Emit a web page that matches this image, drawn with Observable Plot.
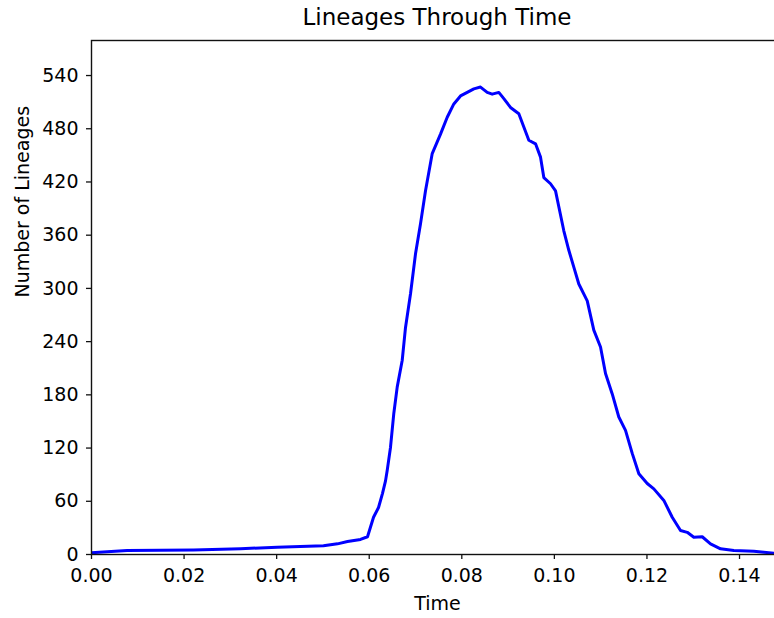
<!DOCTYPE html>
<html>
<head>
<meta charset="utf-8">
<script src="https://cdn.jsdelivr.net/npm/d3@7"></script>
<script src="https://cdn.jsdelivr.net/npm/@observablehq/plot@0.6"></script>
<style>
  html, body { margin: 0; padding: 0; background: #fff; }
  #title { box-sizing: border-box; width: 774px; height: 34px; line-height: 34px; padding-left: 100px;
           text-align: center; font-family: "DejaVu Sans", sans-serif; font-size: 23px; color: #000; }
  #chart svg { display: block; }
</style>
</head>
<body>
<div id="title">Lineages Through Time</div>
<div id="chart"></div>
<script>
const times = [0, 0.00339, 0.00771, 0.02204, 0.03219, 0.04012, 0.05012, 0.05315, 0.05531, 0.05812,
  0.05963, 0.06028, 0.06093, 0.06201, 0.06287, 0.06352, 0.06389, 0.06460, 0.06531, 0.06605,
  0.06713, 0.06784, 0.06892, 0.07000, 0.07108, 0.07216, 0.07361, 0.07540, 0.07685, 0.07828,
  0.07972, 0.08117, 0.08260, 0.08404, 0.08549, 0.08657, 0.08800, 0.08908, 0.09052, 0.09232,
  0.09340, 0.09448, 0.09593, 0.09701, 0.09772, 0.09917, 0.10025, 0.10096, 0.10204, 0.10312,
  0.10420, 0.10528, 0.10710, 0.10852, 0.10997, 0.11105, 0.11250, 0.11392, 0.11537, 0.11682,
  0.11825, 0.12006, 0.12149, 0.12365, 0.12546, 0.12725, 0.12870, 0.13013, 0.13194, 0.13373,
  0.13590, 0.13877, 0.14309, 0.14525, 0.14741];
const lineages = [2, 3, 4.5, 5, 6.4, 8.3, 9.8, 12, 14.6, 17,
  20, 31, 42, 53, 69, 83, 95, 121, 159, 189,
  219, 256, 294, 339, 373, 410, 452, 474, 493, 508,
  517, 521, 525, 527, 521, 519, 521, 514, 504, 497,
  482, 467, 463, 448, 425, 418, 410, 392, 365, 343,
  324, 305, 286, 253, 234, 204, 181, 155, 140, 114,
  91, 80, 74, 61, 42, 27, 25, 19.5, 20, 12,
  6.4, 4.5, 3.7, 2.6, 1.5];
const xTicks = [0, 0.02, 0.04, 0.06, 0.08, 0.10, 0.12, 0.14];
const yTicks = [0, 60, 120, 180, 240, 300, 360, 420, 480, 540];
const xLabel = "Time";
const yLabel = "Number of Lineages";

const data = times.map((t, i) => ({t, n: lineages[i]}));

const chart = Plot.plot({
  width: 774,
  height: 584,
  marginLeft: 91,
  marginRight: -9,
  marginTop: 6,
  marginBottom: 64,
  style: {fontFamily: "DejaVu Sans, sans-serif", fontSize: "19px", color: "#000", background: "#fff", overflow: "hidden"},
  x: {domain: [0, 0.1495]},
  y: {domain: [0, 579.5]},
  marks: [
    Plot.line(data, {x: "t", y: "n", stroke: "#0000ff", strokeWidth: 3, clip: true}),
    Plot.frame({stroke: "#111", strokeWidth: 1.4}),
    Plot.axisX({ticks: xTicks, tickFormat: d3.format(".2f"), tickSize: 5, tickPadding: 9, label: null, stroke: "#111", strokeWidth: 1.3}),
    Plot.axisY({ticks: yTicks, tickFormat: d => String(d), tickSize: 5, tickPadding: 8, label: null, stroke: "#111", strokeWidth: 1.3}),
    Plot.text([xLabel], {frameAnchor: "bottom", dy: 49, text: d => d, lineAnchor: "middle", fontSize: 19}),
    Plot.text([yLabel], {frameAnchor: "left", dx: -69, rotate: -90, text: d => d, lineAnchor: "middle", fontSize: 19})
  ]
});
document.getElementById("chart").appendChild(chart);
</script>
</body>
</html>
